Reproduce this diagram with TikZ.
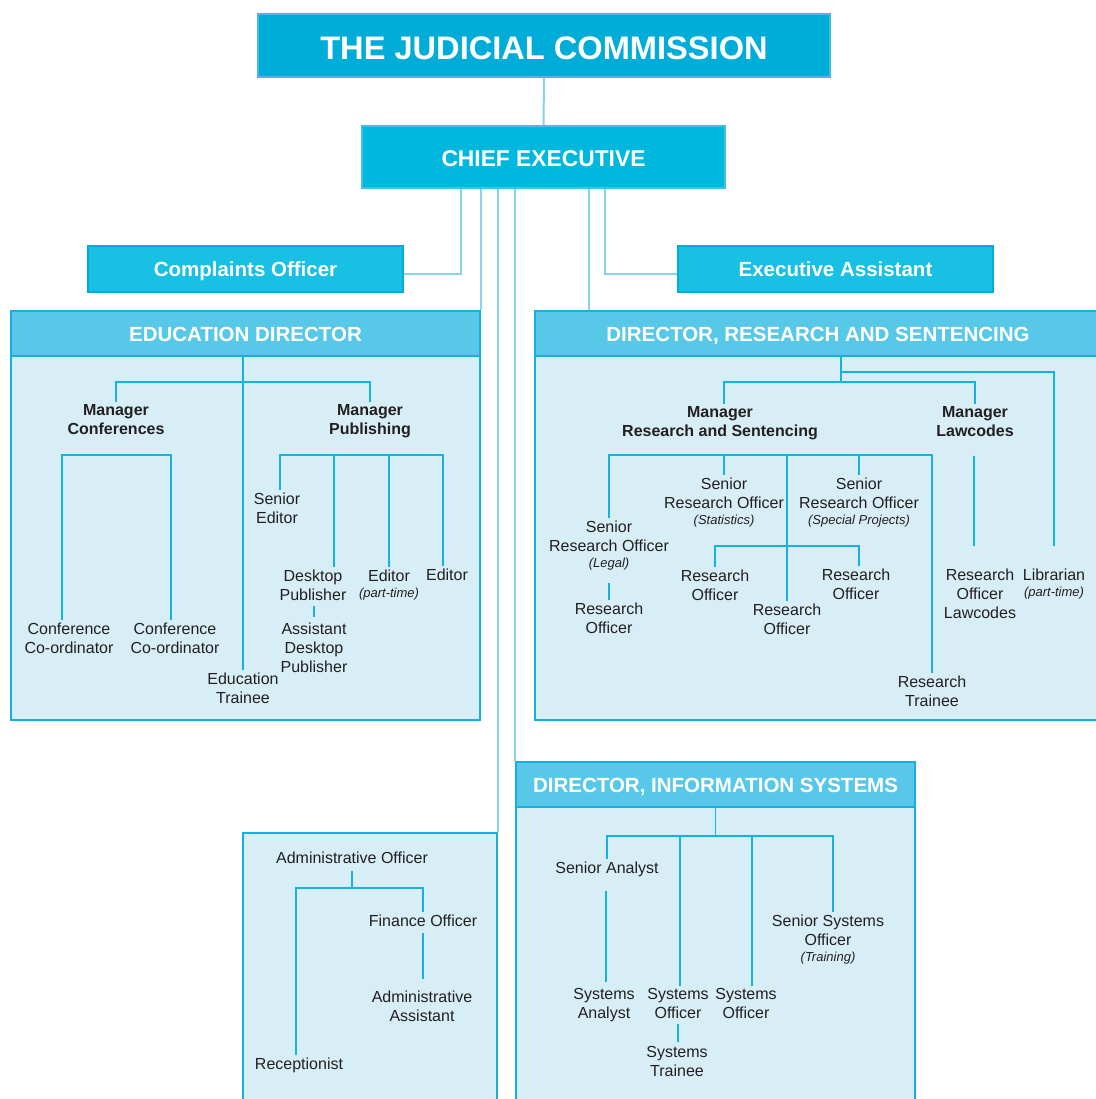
\documentclass[tikz,border=0pt]{standalone}
\usepackage{fontspec}
\setmainfont{Liberation Sans}
\usepackage{xcolor}
\usepackage{tikz}
\definecolor{jcblue}{RGB}{0,173,216}
\definecolor{jcedge}{RGB}{60,190,228}
\definecolor{ceblue}{RGB}{0,184,222}
\definecolor{ceedge}{RGB}{60,195,232}
\definecolor{sideblue}{RGB}{24,192,227}
\definecolor{sideedge}{RGB}{0,172,218}
\definecolor{headblue}{RGB}{88,200,232}
\definecolor{boxedge}{RGB}{22,176,222}
\definecolor{wash}{RGB}{215,238,246}
\definecolor{feedblue}{RGB}{135,211,236}
\definecolor{treeblue}{RGB}{20,178,222}
\definecolor{ink}{RGB}{35,31,32}
\newcommand\rolenote[1]{{\fontsize{13}{16}\selectfont\itshape #1}}

\begin{document}
\begin{tikzpicture}[x=1pt, y=-1pt,
		topbox/.style={text=white, inner sep=0pt, line width=1.5pt, text depth=0pt},
		sidebox/.style={topbox, fill=sideblue, draw=sideedge, line width=2pt, text height=15pt,
			minimum width=315pt, minimum height=46pt, font=\fontsize{20.5}{24}\selectfont\bfseries},
		panel/.style={draw=boxedge, fill=wash, line width=2pt, anchor=north west},
		headband/.style={panel, fill=headblue, text=white, minimum height=45pt,
			text height=16pt, text depth=0pt, font=\fontsize{20.5}{24}\selectfont\bfseries},
		staff/.style={align=center, anchor=north, inner sep=0pt, outer sep=3pt, yshift=2.5pt,
			text=ink, font=\fontsize{16}{19}\selectfont},
		mgr/.style={staff, font=\fontsize{16}{19}\selectfont\bfseries},
		feedline/.style={draw=feedblue, line width=2pt},
		orgline/.style={draw=treeblue, line width=1.6pt}]
		\useasboundingbox (0,0) rectangle (1095,1099);

		\node[topbox, fill=jcblue, draw=jcedge, minimum width=572pt, minimum height=63pt, text height=27.3pt,
			font=\fontsize{32.6}{36}\selectfont\bfseries] (jc) at (544,45.5) {THE JUDICIAL COMMISSION};
		\node[topbox, fill=ceblue, draw=ceedge, minimum width=363pt, minimum height=62pt, text height=18.3pt,
			font=\fontsize{22.8}{26}\selectfont\bfseries] (ce) at (543.5,157) {CHIEF EXECUTIVE};
		\node[sidebox] (comp) at (245.5,269) {Complaints Officer};
		\node[sidebox] (exa) at (835.5,269) {Executive Assistant};

		\node[panel, minimum width=469pt, minimum height=409pt] (edbox) at (10,310) {};
		\node[headband, minimum width=469pt] (edhead) at (10,310) {EDUCATION DIRECTOR};
		\node[panel, minimum width=566pt, minimum height=409pt] (drsbox) at (534,310) {};
		\node[headband, minimum width=566pt] (drshead) at (534,310) {DIRECTOR, RESEARCH AND SENTENCING};
		\node[panel, minimum width=254pt, minimum height=300pt] (adbox) at (242,832) {};
		\node[panel, minimum width=399pt, minimum height=360pt] (disbox) at (515,761) {};
		\node[headband, minimum width=399pt] (dishead) at (515,761) {DIRECTOR, INFORMATION SYSTEMS};

		\draw[feedline] (jc.south) -- (ce.north);
		\draw[feedline] (461,0 |- ce.south) |- ([yshift=-5pt]comp.east);
		\draw[feedline] (605,0 |- ce.south) |- ([yshift=-5pt]exa.west);
		\draw[feedline] (ce.south -| edhead.north east) -- (edhead.north east);
		\draw[feedline] (ce.south -| adbox.north east) -- (adbox.north east);
		\draw[feedline] (ce.south -| dishead.north west) -- (dishead.north west);
		\draw[feedline] (589,0 |- ce.south) -- (589,0 |- drshead.north);

		% education
		\node[mgr] (mconf) at (116,404) {Manager\\Conferences};
		\node[mgr] (mpub) at (370,404) {Manager\\Publishing};
		\node[staff] (cc1) at (69,622) {Conference\\Co-ordinator};
		\node[staff] (cc2) at (175,622) {Conference\\Co-ordinator};
		\node[staff] (sed) at (277,492) {Senior\\Editor};
		\node[staff] (dpub) at (313,569) {Desktop\\Publisher};
		\node[staff] (edpt) at (389,569) {Editor\\[-3pt]\rolenote{(part-time)}};
		\node[staff] (edit) at (447,568) {Editor};
		\node[staff] (adp) at (314,622) {Assistant\\Desktop\\Publisher};
		\node[staff] (etr) at (243,672) {Education\\Trainee};
		\coordinate (dpubj) at (334,455);
		\coordinate (edptj) at (389,455);
		\draw[orgline] (edhead.south -| etr.north) -- (etr.north);
		\draw[orgline] (mconf.north) |- (mpub.north |- 0,382) -- (mpub.north);
		\draw[orgline] (62,0 |- cc1.north) |- (171,455) -- (171,0 |- cc2.north);
		\draw[orgline] (280,0 |- sed.north) |- (443,455) -- (443,0 |- edit.north);
		\draw[orgline] (dpubj) -- (dpubj |- dpub.north);
		\draw[orgline] (edptj) -- (edpt.north);
		\draw[orgline, shorten <=3pt, shorten >=3pt] (dpub.south -| adp.north) -- (adp.north);

		% research and sentencing
		\node[mgr] (mrs) at (720,406) {Manager\\Research and Sentencing};
		\node[mgr] (mlaw) at (975,406) {Manager\\Lawcodes};
		\node[staff] (srol) at (609,520) {Senior\\Research Officer\\[-3pt]\rolenote{(Legal)}};
		\node[staff] (sros) at (724,477) {Senior\\Research Officer\\[-3pt]\rolenote{(Statistics)}};
		\node[staff] (srosp) at (859,477) {Senior\\Research Officer\\[-3pt]\rolenote{(Special Projects)}};
		\node[staff] (ro1) at (609,602) {Research\\Officer};
		\node[staff] (ro2) at (715,569) {Research\\Officer};
		\node[staff] (ro3) at (787,603) {Research\\Officer};
		\node[staff] (ro4) at (856,568) {Research\\Officer};
		\node[staff] (rtr) at (932,675) {Research\\Trainee};
		\node[staff] (rolaw) at (980,568) {Research\\Officer\\Lawcodes};
		\node[staff] (lib) at (1054,568) {Librarian\\[-3pt]\rolenote{(part-time)}};
		\coordinate (libj) at (841,372);
		\coordinate (srosj) at (724,455);
		\coordinate (srospj) at (859,455);
		\coordinate (roj) at (787,455);
		\draw[orgline] (drshead.south -| libj) -- (841,382);
		\draw[orgline, shorten >=20pt] (libj) -| (lib.north);
		\draw[orgline] (724,0 |- mrs.north) |- (mlaw.north |- 0,382) -- (mlaw.north);
		\draw[orgline] (srol.north) |- (rtr.north |- 0,455) -- (rtr.north);
		\draw[orgline] (srosj) -- (sros.north);
		\draw[orgline] (srospj) -- (srosp.north);
		\draw[orgline] (roj) -- (ro3.north);
		\draw[orgline] (ro2.north) |- (859,546) -- (859,0 |- ro4.north);
		\draw[orgline, shorten <=10pt] (srol.south) -- (ro1.north);
		\draw[orgline, shorten <=16pt, shorten >=20pt] (974,0 |- mlaw.south) -- (974,0 |- rolaw.north);

		% administration
		\node[staff] (adof) at (352,851) {Administrative Officer};
		\node[staff] (fin) at (423,914) {Finance Officer};
		\node[staff] (adas) at (422,990) {Administrative\\Assistant};
		\node[staff] (rec) at (299,1057) {Receptionist};
		\draw[orgline, shorten <=5pt] (adof.south) -- (adof.south |- 0,888);
		\draw[orgline] (296,0 |- rec.north) |- (fin.north |- 0,888) -- (fin.north);
		\draw[orgline, shorten <=4pt, shorten >=9pt] (fin.south) -- (fin.south |- adas.north);

		% information systems
		\node[staff] (sana) at (607,861) {Senior Analyst};
		\node[staff] (syan) at (604,988) {Systems\\Analyst};
		\node[staff] (syo1) at (678,988) {Systems\\Officer};
		\node[staff] (syo2) at (746,988) {Systems\\Officer};
		\node[staff] (ssys) at (828,914) {Senior Systems\\Officer\\[-3pt]\rolenote{(Training)}};
		\node[staff] (sytr) at (677,1046) {Systems\\Trainee};
		\coordinate (syo1j) at (680,836);
		\coordinate (syo2j) at (752,836);
		\draw[orgline] (dishead.south) -- (dishead.south |- 0,836);
		\draw[orgline] (sana.north) |- (833,836) -- (833,0 |- ssys.north);
		\draw[orgline] (syo1j) -- (syo1j |- syo1.north);
		\draw[orgline] (syo2j) -- (syo2j |- syo2.north);
		\draw[orgline, shorten <=12pt, shorten >=4pt] (606,0 |- sana.south) -- (606,0 |- syan.north);
		\draw[orgline, shorten <=2pt, shorten >=2pt] (syo1.south) -- (syo1.south |- sytr.north);
	\end{tikzpicture}
\end{document}
